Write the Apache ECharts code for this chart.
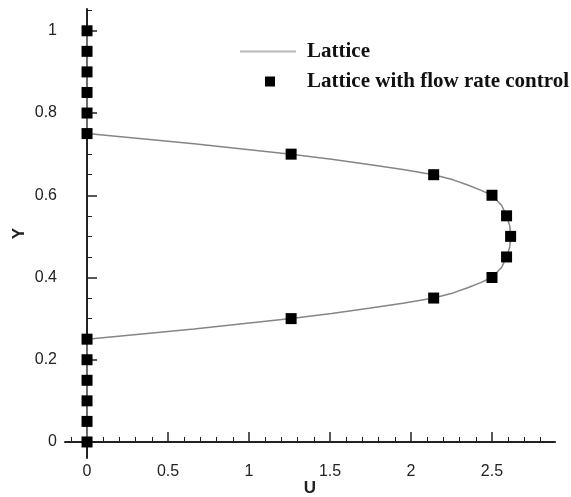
<!DOCTYPE html>
<html><head><meta charset="utf-8">
<script src="https://cdn.jsdelivr.net/npm/echarts@6/dist/echarts.min.js"></script>
<style>html,body{margin:0;padding:0;background:#fff}#c{width:571px;height:497px}</style>
</head><body><div id="c"></div>
<script>
// Markers: "Lattice with flow rate control"
const markerY = [0,0.05,0.1,0.15,0.2,0.25,0.3,0.35,0.4,0.45,0.5,0.55,0.6,0.65,0.7,0.75,0.8,0.85,0.9,0.95,1.0];
const markerU = [0,0,0,0,0,0,1.26,2.14,2.5,2.59,2.615,2.59,2.5,2.14,1.26,0,0,0,0,0,0];
// Line: "Lattice"
const lineY = [0,0.25,0.275,0.3,0.3125,0.325,0.3375,0.35,0.3625,0.375,0.3875,0.4,0.425,0.45,0.475,0.5,0.525,0.55,0.575,0.6,0.6125,0.625,0.6375,0.65,0.6625,0.675,0.6875,0.7,0.725,0.75,1.0];
const lineU = [0,0,0.66,1.26,1.51,1.74,1.95,2.14,2.26,2.35,2.43,2.5,2.56,2.59,2.61,2.615,2.61,2.59,2.56,2.5,2.43,2.35,2.26,2.14,1.95,1.74,1.51,1.26,0.66,0,0];
// Tick labels
const xTicks = [0,0.5,1,1.5,2,2.5];
const yTicks = [0,0.2,0.4,0.6,0.8,1];
const xMinor = [];
for (let i = -1; i <= 28; i++) if (i % 5 !== 0) xMinor.push(+(i / 10).toFixed(2));
const yMinor = [];
for (let i = 0; i <= 21; i++) if (i % 4 !== 0) yMinor.push(+(i * 0.05).toFixed(2));

const X_MIN = -0.136, X_MAX = 2.889, Y_MIN = -0.039, Y_MAX = 1.053;
const AX = '#222';
const sans = 'Liberation Sans, Arial, sans-serif';
const serif = 'Liberation Serif, Times New Roman, serif';

const chart = echarts.init(document.getElementById('c'), null, {renderer: 'canvas'});
const legendText = {fontFamily: serif, fontWeight: 'bold', fontSize: 21, color: '#111'};
chart.setOption({
  animation: false,
  backgroundColor: '#fff',
  grid: {left: 65, right: 16, top: 9, bottom: 39, outerBoundsMode: 'none', containLabel: false},
  legend: [
    {data: [{name: 'Lattice', icon: 'rect'}], left: 240, top: 41, padding: 0,
     itemWidth: 56, itemHeight: 2, itemStyle: {color: '#b8b8b8'},
     formatter: n => '{g|}{t|' + n + '}',
     textStyle: Object.assign({rich: {g: {width: 6}, t: legendText}}, legendText)},
    {data: ['Lattice with flow rate control'], left: 265, top: 71, padding: 0,
     itemWidth: 10, itemHeight: 10,
     formatter: n => '{g|}{t|' + n + '}',
     textStyle: Object.assign({rich: {g: {width: 27}, t: legendText}}, legendText)}
  ],
  xAxis: [
    {type: 'value', min: X_MIN, max: X_MAX, position: 'bottom',
     axisLine: {lineStyle: {color: AX, width: 2}},
     axisTick: {inside: true, length: 10, customValues: xTicks, lineStyle: {color: AX, width: 1.5}},
     axisLabel: {customValues: xTicks, fontSize: 16, color: AX, fontFamily: sans, margin: 6},
     splitLine: {show: false},
     name: 'U', nameLocation: 'middle', nameGap: 22, nameMoveOverlap: false,
     nameTextStyle: {fontFamily: sans, fontWeight: 'bold', fontSize: 17, color: AX}},
    {type: 'value', min: X_MIN, max: X_MAX, position: 'bottom',
     axisLine: {show: false},
     axisTick: {inside: true, length: 5, customValues: xMinor, lineStyle: {color: AX, width: 1}},
     axisLabel: {show: false}, splitLine: {show: false}}
  ],
  yAxis: [
    {type: 'value', min: Y_MIN, max: Y_MAX, position: 'left',
     axisLine: {lineStyle: {color: AX, width: 2}},
     axisTick: {inside: true, length: 10, customValues: yTicks, lineStyle: {color: AX, width: 1.5}},
     axisLabel: {customValues: yTicks, fontSize: 16, color: AX, fontFamily: sans, margin: 8},
     splitLine: {show: false},
     name: 'Y', nameLocation: 'middle', nameGap: 37, nameMoveOverlap: false,
     nameTextStyle: {fontFamily: sans, fontWeight: 'bold', fontSize: 17, color: AX}},
    {type: 'value', min: Y_MIN, max: Y_MAX, position: 'left',
     axisLine: {show: false},
     axisTick: {inside: true, length: 5, customValues: yMinor, lineStyle: {color: AX, width: 1}},
     axisLabel: {show: false}, splitLine: {show: false}}
  ],
  series: [
    {name: 'Lattice', type: 'line', xAxisIndex: 0, yAxisIndex: 0,
     data: lineU.map((u, i) => [u, lineY[i]]),
     symbol: 'none', smooth: false, z: 1,
     itemStyle: {color: '#999'},
     lineStyle: {color: '#858585', width: 1.5}},
    {name: 'Lattice with flow rate control', type: 'scatter', xAxisIndex: 0, yAxisIndex: 0,
     data: markerU.map((u, i) => [u, markerY[i]]),
     symbol: 'rect', symbolSize: 11, z: 3,
     itemStyle: {color: '#000', opacity: 1}}
  ]
});
</script></body></html>
